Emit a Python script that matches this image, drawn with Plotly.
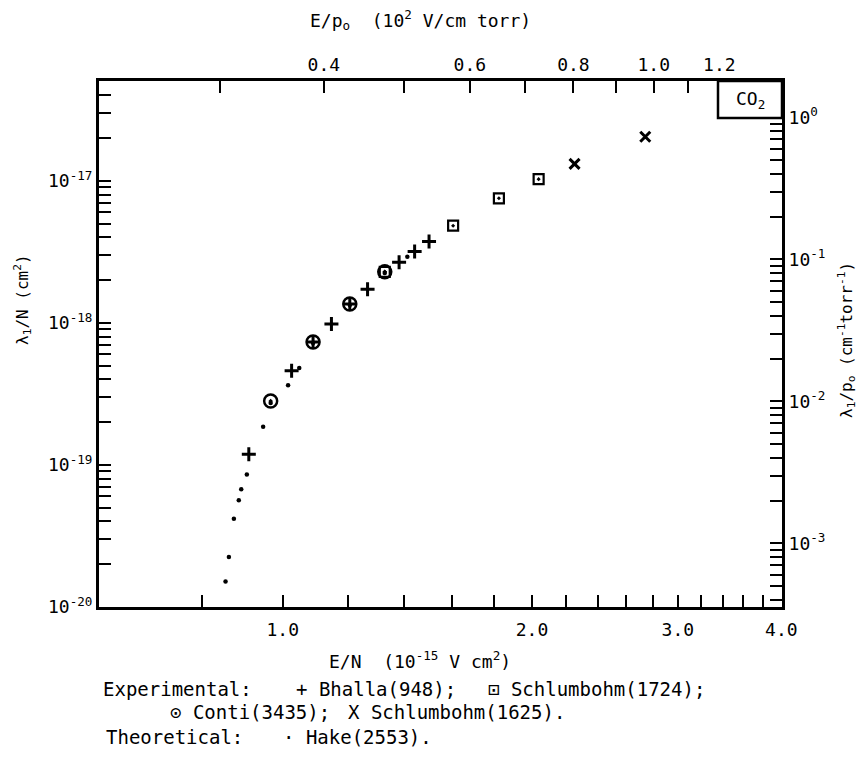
import numpy as np
import plotly.graph_objects as go

# ---------------- data ----------------
# E/N in 1e-15 V cm^2, lambda1/N in cm^2
bhalla_x = [0.910, 1.025, 1.088, 1.145, 1.205, 1.266, 1.382, 1.443, 1.502]
bhalla_y = [1.19e-19, 4.61e-19, 7.35e-19, 9.84e-19, 1.36e-18, 1.73e-18, 2.68e-18, 3.18e-18, 3.74e-18]

schl1724_x = [1.328, 1.606, 1.824, 2.037]
schl1724_y = [2.29e-18, 4.84e-18, 7.55e-18, 1.03e-17]

conti_x = [0.967, 1.088, 1.205, 1.328]
conti_y = [2.82e-19, 7.35e-19, 1.36e-18, 2.29e-18]

schl1625_x = [2.251, 2.740]
schl1625_y = [1.32e-17, 2.05e-17]

hake_x = [0.853, 0.861, 0.873, 0.885, 0.891, 0.905, 0.947, 0.967, 1.015, 1.047,
          1.088, 1.205, 1.328, 1.414]
hake_y = [1.51e-20, 2.25e-20, 4.17e-20, 5.64e-20, 6.74e-20, 8.55e-20, 1.86e-19, 2.73e-19,
          3.64e-19, 4.82e-19, 7.23e-19, 1.34e-18, 2.25e-18, 2.93e-18]

# axis limits and conversion factors
x_min, x_max = 0.6, 4.0
y_min, y_max = 1e-20, 5.06e-17
ep_per_en = 0.357        # E/p0 (1e2 V/cm torr) per E/N (1e-15 V cm^2)
lp_per_ln = 3.57e16      # lambda/p0 (1/cm torr) per lambda/N (cm^2)

bottom_major = [1.0, 2.0, 3.0, 4.0]
bottom_labels = ["1.0", "2.0", "3.0", "4.0"]
bottom_minor = [0.8, 1.2, 1.4, 1.6, 1.8, 2.2, 2.4, 2.6, 2.8, 3.2, 3.4, 3.6, 3.8]
top_major = [0.4, 0.6, 0.8, 1.0, 1.2]
top_labels = ["0.4", "0.6", "0.8", "1.0", "1.2"]
top_minor = [0.3, 0.5, 0.7, 0.9, 1.1]
left_decades = [-20, -19, -18, -17]
right_decades = [-3, -2, -1, 0]

# ---------------- figure ----------------
FONT = "DejaVu Sans Mono"
BLACK = "black"

fig = go.Figure()

fig.add_trace(go.Scatter(x=hake_x, y=hake_y, mode="markers", name="Hake(2553)",
                         marker=dict(symbol="circle", size=4.5, color=BLACK)))
fig.add_trace(go.Scatter(x=bhalla_x, y=bhalla_y, mode="markers", name="Bhalla(948)",
                         marker=dict(symbol="cross-thin", size=10, color=BLACK,
                                     line=dict(width=3, color=BLACK))))
fig.add_trace(go.Scatter(x=conti_x, y=conti_y, mode="markers", name="Conti(3435)",
                         marker=dict(symbol="circle-open-dot", size=13, color=BLACK,
                                     line=dict(width=2.5, color=BLACK))))
fig.add_trace(go.Scatter(x=schl1724_x, y=schl1724_y, mode="markers", name="Schlumbohm(1724)",
                         marker=dict(symbol="square-open-dot", size=10, color=BLACK,
                                     line=dict(width=2.2, color=BLACK))))
fig.add_trace(go.Scatter(x=schl1625_x, y=schl1625_y, mode="markers", name="Schlumbohm(1625)",
                         marker=dict(symbol="x-thin", size=10, color=BLACK,
                                     line=dict(width=3, color=BLACK))))
# invisible trace to activate the secondary (top / right) axes
fig.add_trace(go.Scatter(x=[x_min * ep_per_en, x_max * ep_per_en],
                         y=[y_min * lp_per_ln, y_max * lp_per_ln],
                         xaxis="x2", yaxis="y2", mode="markers",
                         marker=dict(opacity=0), hoverinfo="skip", showlegend=False))


def log_ticks(decades, lo, hi):
    major, labels, minor = [], [], []
    for d in range(min(decades) - 1, max(decades) + 2):
        for m in range(1, 10):
            v = m * 10.0 ** d
            if lo * 0.999 <= v <= hi * 1.001:
                if m == 1 and d in decades:
                    major.append(v)
                    labels.append(f"10<sup>{d}</sup>")
                else:
                    minor.append(v)
    return major, labels, minor


ly_major, ly_text, ly_minor = log_ticks(left_decades, y_min, y_max)
ry_major, ry_text, ry_minor = log_ticks(right_decades, y_min * lp_per_ln, y_max * lp_per_ln)

TICK = dict(ticks="inside", ticklen=12, tickwidth=2, tickcolor=BLACK)


def axis(**kw):
    d = dict(type="log", showgrid=False, zeroline=False, showline=True,
             linecolor=BLACK, linewidth=3, mirror=False, tickmode="array",
             tickfont=dict(family=FONT, size=18, color=BLACK), **TICK)
    d.update(kw)
    return d


fig.update_layout(
    width=864, height=762,
    margin=dict(l=99, r=82, t=81, b=155),
    paper_bgcolor="white", plot_bgcolor="white",
    showlegend=False,
    xaxis=axis(range=[np.log10(x_min), np.log10(x_max) + 0.0008],
               tickvals=bottom_major, ticktext=bottom_labels, ticklabelstandoff=4,
               minor=dict(tickmode="array", tickvals=bottom_minor, **TICK)),
    yaxis=axis(range=[np.log10(y_min) - 0.0008, np.log10(y_max)],
               tickvals=ly_major, ticktext=ly_text,
               minor=dict(tickmode="array", tickvals=ly_minor, **TICK)),
    xaxis2=axis(overlaying="x", side="top", anchor="y2",
                range=[np.log10(x_min * ep_per_en), np.log10(x_max * ep_per_en)],
                tickvals=top_major, ticktext=top_labels,
                minor=dict(tickmode="array", tickvals=top_minor, **TICK)),
    yaxis2=axis(overlaying="y", side="right", anchor="x2",
                range=[np.log10(y_min * lp_per_ln), np.log10(y_max * lp_per_ln)],
                tickvals=ry_major, ticktext=ry_text,
                minor=dict(tickmode="array", tickvals=ry_minor, **TICK)),
)


def px_to_paper(px, py):
    return (px - 99) / 683.0, (607 - py) / 526.0


def ann(text, px, py, xanchor="left", size=19, angle=0):
    x, y = px_to_paper(px, py)
    fig.add_annotation(text=text, x=x, y=y, xref="paper", yref="paper",
                       xanchor=xanchor, yanchor="middle", showarrow=False,
                       textangle=angle, font=dict(family=FONT, size=size, color=BLACK))


# axis titles
ann("E/p<sub>o</sub>  (10<sup>2</sup> V/cm torr)", 420, 20, xanchor="center", size=18)
ann("E/N  (10<sup>-15</sup> V cm<sup>2</sup>)", 420, 660, xanchor="center", size=18)
ann("λ<sub>1</sub>/N (cm<sup>2</sup>)", 22, 300, xanchor="center", size=16, angle=-90)
ann("λ<sub>1</sub>/p<sub>o</sub> (cm<sup>-1</sup>torr<sup>-1</sup>)", 846, 340,
    xanchor="center", size=16, angle=-90)

# footer legend text
ann("Experimental:", 101, 689)
ann("+ Bhalla(948);", 294, 689)
ann("⊡ Schlumbohm(1724);", 486, 689)
ann("⊙ Conti(3435);", 168, 712)
ann("X Schlumbohm(1625).", 346, 712)
ann("Theoretical:", 104, 737)
ann("· Hake(2553).", 281, 737)

# CO2 box
x0, y0 = px_to_paper(718, 118)
fig.add_shape(type="rect", xref="paper", yref="paper", x0=x0, y0=y0, x1=1.0, y1=1.0,
              line=dict(color=BLACK, width=2.5), fillcolor="white", layer="above")
fig.add_annotation(text="CO<sub>2</sub>", x=(x0 + 1.0) / 2, y=(y0 + 1.0) / 2,
                   xref="paper", yref="paper", showarrow=False,
                   xanchor="center", yanchor="middle",
                   font=dict(family=FONT, size=18, color=BLACK))

fig.write_html("out.html", config={"displayModeBar": False},
               post_script="document.body.style.margin='0px';")
